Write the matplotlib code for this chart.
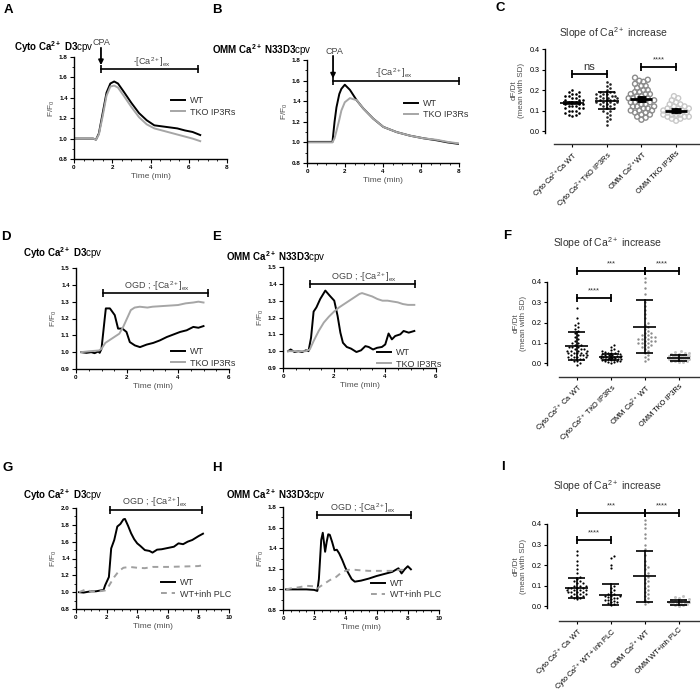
import numpy as np
import matplotlib
matplotlib.use("Agg")
import matplotlib.pyplot as plt
from matplotlib.ticker import AutoMinorLocator

plt.rcParams['font.family'] = ['Liberation Sans', 'DejaVu Sans']
plt.rcParams['mathtext.fontset'] = 'custom'
plt.rcParams['mathtext.rm'] = 'Liberation Sans'
plt.rcParams['mathtext.it'] = 'Liberation Sans:italic'
plt.rcParams['mathtext.bf'] = 'Liberation Sans:bold'

# ---- traces (time in min, F/F0) ----
a_t = [0, 0.5, 1.0, 1.15, 1.3, 1.5, 1.7, 1.9, 2.1, 2.3, 2.6, 3.0, 3.4, 3.8, 4.2, 4.6, 5.0, 5.4, 5.8, 6.2, 6.6]
a_wt = [1.00, 1.00, 1.00, 0.99, 1.05, 1.25, 1.45, 1.54, 1.56, 1.54, 1.46, 1.35, 1.25, 1.18, 1.13, 1.12, 1.11, 1.10, 1.08, 1.065, 1.035]
a_tko = [1.00, 1.00, 1.00, 0.99, 1.04, 1.22, 1.42, 1.51, 1.52, 1.50, 1.42, 1.31, 1.21, 1.14, 1.10, 1.08, 1.06, 1.04, 1.02, 1.0, 0.975]

b_t = [0, 0.5, 1.0, 1.34, 1.45, 1.55, 1.7, 1.81, 1.99, 2.26, 2.61, 2.96, 3.49, 4.02, 4.72, 5.43, 6.13, 6.84, 7.4, 8.0]
b_wt = [1.005, 1.005, 1.005, 1.005, 1.2, 1.34, 1.47, 1.52, 1.56, 1.51, 1.41, 1.33, 1.23, 1.15, 1.10, 1.065, 1.04, 1.02, 1.0, 0.985]
b_tko = [1.0, 1.0, 1.0, 1.0, 1.04, 1.11, 1.22, 1.31, 1.39, 1.43, 1.41, 1.33, 1.23, 1.15, 1.10, 1.065, 1.04, 1.025, 1.005, 0.99]

d_t_wt = [0.2, 0.41, 0.6, 0.73, 0.87, 0.93, 1.0, 1.13, 1.17, 1.33, 1.52, 1.65, 1.82, 1.98, 2.11, 2.31, 2.51, 2.77, 3.03,
          3.29, 3.56, 3.82, 4.08, 4.34, 4.6, 4.8, 5.0]
d_wt = [1.0, 0.996, 1.0, 0.994, 1.004, 0.996, 1.02, 1.205, 1.26, 1.26, 1.22, 1.14, 1.14, 1.12, 1.06, 1.04, 1.03, 1.045, 1.055,
        1.07, 1.09, 1.105, 1.12, 1.13, 1.15, 1.145, 1.155]
d_t_tko = [0.2, 0.5, 0.9, 1.0, 1.15, 1.3, 1.5, 1.7, 1.85, 2.0, 2.15, 2.3, 2.5, 2.8, 3.0, 3.5, 4.0, 4.3, 4.6, 4.8, 5.0]
d_tko = [1.0, 1.005, 1.01, 1.02, 1.055, 1.07, 1.09, 1.11, 1.15, 1.2, 1.25, 1.265, 1.27, 1.265, 1.27, 1.275, 1.28, 1.29, 1.295, 1.30, 1.295]

e_t_wt = [0.2, 0.3, 0.45, 0.6, 0.75, 0.9, 1.0, 1.1, 1.2, 1.31, 1.46, 1.66, 1.83, 2.01, 2.14, 2.25, 2.35, 2.5, 2.67, 2.88,
          3.06, 3.23, 3.36, 3.53, 3.69, 3.88, 4.01, 4.14, 4.27, 4.4, 4.6, 4.73, 4.93, 5.15]
e_wt = [1.0, 1.01, 0.995, 1.0, 0.995, 1.005, 1.0, 1.08, 1.235, 1.26, 1.31, 1.36, 1.33, 1.30, 1.21, 1.11, 1.05, 1.025, 1.015, 0.995,
        1.005, 1.03, 1.025, 1.01, 1.02, 1.025, 1.04, 1.105, 1.07, 1.09, 1.10, 1.12, 1.11, 1.12]
e_t_tko = [0.2, 0.5, 0.9, 1.05, 1.2, 1.4, 1.6, 1.8, 2.0, 2.2, 2.4, 2.6, 2.8, 3.0, 3.1, 3.3, 3.5, 3.7, 3.9, 4.1, 4.3, 4.5, 4.7, 4.9, 5.15]
e_tko = [1.0, 1.0, 1.0, 1.01, 1.06, 1.12, 1.17, 1.205, 1.235, 1.26, 1.28, 1.30, 1.32, 1.34, 1.345, 1.335, 1.325, 1.31, 1.30, 1.30,
         1.295, 1.29, 1.28, 1.275, 1.275]

g_t_wt = [0.2, 0.5, 0.8, 1.0, 1.3, 1.6, 1.8, 1.9, 2.0, 2.15, 2.3, 2.5, 2.7, 2.9, 3.1, 3.2, 3.4, 3.6, 3.8, 4.0, 4.2, 4.5, 4.8,
          5.0, 5.3, 5.6, 6.0, 6.4, 6.7, 7.0, 7.3, 7.6, 8.0, 8.3]
g_wt = [1.0, 0.995, 1.005, 1.01, 1.01, 1.02, 1.025, 1.08, 1.12, 1.18, 1.52, 1.62, 1.78, 1.81, 1.865, 1.87, 1.79, 1.70, 1.63,
        1.58, 1.55, 1.50, 1.49, 1.47, 1.505, 1.51, 1.525, 1.54, 1.58, 1.57, 1.60, 1.62, 1.665, 1.695]
g_t_plc = [0.2, 0.6, 1.0, 1.5, 1.9, 2.1, 2.3, 2.5, 2.8, 3.1, 3.5, 4.0, 4.5, 5.0, 6.0, 7.0, 8.0, 8.3]
g_plc = [1.0, 1.03, 1.01, 1.01, 1.02, 1.06, 1.12, 1.18, 1.25, 1.29, 1.30, 1.29, 1.285, 1.30, 1.30, 1.305, 1.31, 1.32]

h_t_wt = [0.2, 0.5, 1.0, 1.5, 2.0, 2.2, 2.3, 2.45, 2.55, 2.7, 2.8, 2.9, 3.0, 3.15, 3.3, 3.45, 3.6, 3.8, 4.0, 4.2, 4.4, 4.6,
          5.0, 5.5, 6.0, 6.5, 7.0, 7.4, 7.6, 7.8, 8.0, 8.2]
h_wt = [1.0, 1.0, 1.0, 1.0, 0.995, 0.985, 1.1, 1.48, 1.55, 1.365, 1.46, 1.535, 1.53, 1.46, 1.38, 1.385, 1.35, 1.285, 1.21,
        1.155, 1.10, 1.075, 1.085, 1.105, 1.13, 1.15, 1.17, 1.205, 1.155, 1.195, 1.225, 1.195]
h_t_plc = [0.2, 0.5, 1.0, 1.5, 2.0, 2.2, 2.6, 3.0, 3.4, 3.8, 4.2, 4.6, 5.0, 5.5, 6.0, 6.5, 7.0, 7.5, 8.0]
h_plc = [1.0, 1.01, 1.02, 1.035, 1.03, 1.01, 1.05, 1.09, 1.12, 1.17, 1.19, 1.19, 1.185, 1.18, 1.18, 1.18, 1.18, 1.19, 1.19]

# ---- slopes dF/Dt ----
c_labels = ['Cyto Ca$^{2+}$Ca WT', 'Cyto Ca$^{2+}$TKO IP3Rs', 'OMM Ca$^{2+}$WT', 'OMM TKO IP3Rs']
c_g1 = [0.2, 0.19, 0.19, 0.18, 0.18, 0.17, 0.17, 0.17, 0.16, 0.16, 0.15, 0.15, 0.15, 0.14, 0.14, 0.14, 0.13, 0.13, 0.13,
        0.12, 0.12, 0.12, 0.11, 0.11, 0.11, 0.10, 0.10, 0.10, 0.09, 0.09, 0.08, 0.08, 0.075]
c_g2 = [0.24, 0.23, 0.22, 0.21, 0.20, 0.19, 0.19, 0.19, 0.18, 0.18, 0.18, 0.17, 0.17, 0.17, 0.16, 0.16, 0.16, 0.16, 0.15,
        0.15, 0.15, 0.15, 0.14, 0.14, 0.14, 0.14, 0.13, 0.13, 0.13, 0.12, 0.12, 0.11, 0.11, 0.10, 0.10, 0.09, 0.08, 0.07,
        0.06, 0.05, 0.03]
c_g3 = [0.26, 0.25, 0.245, 0.24, 0.23, 0.22, 0.22, 0.21, 0.2, 0.2, 0.19, 0.19, 0.18, 0.18, 0.18, 0.17, 0.17, 0.16, 0.16,
        0.16, 0.15, 0.15, 0.15, 0.14, 0.14, 0.14, 0.13, 0.13, 0.12, 0.12, 0.12, 0.11, 0.11, 0.1, 0.1, 0.1, 0.09, 0.09, 0.08,
        0.08, 0.07, 0.065, 0.055]
c_g4 = [0.17, 0.16, 0.15, 0.14, 0.13, 0.13, 0.12, 0.12, 0.11, 0.11, 0.11, 0.1, 0.1, 0.1, 0.1, 0.09, 0.09, 0.09, 0.09, 0.08,
        0.08, 0.08, 0.08, 0.07, 0.07, 0.07, 0.06, 0.06, 0.05]
c_mean = [0.137, 0.148, 0.155, 0.100]
c_lo = [0.131, 0.105, 0.145, 0.093]
c_hi = [0.143, 0.19, 0.165, 0.107]

f_labels = ['Cyto Ca$^{2+}$ Ca WT', 'Cyto Ca$^{2+}$ TKO IP3Rs', 'OMM Ca$^{2+}$ WT', 'OMM TKO IP3Rs']
f_g1 = [0.27, 0.22, 0.2, 0.19, 0.18, 0.17, 0.16, 0.15, 0.14, 0.13, 0.12, 0.11, 0.1, 0.1, 0.09, 0.09, 0.08, 0.08, 0.08, 0.07,
        0.07, 0.07, 0.06, 0.06, 0.06, 0.06, 0.05, 0.05, 0.05, 0.05, 0.05, 0.04, 0.04, 0.04, 0.04, 0.03, 0.03, 0.03, 0.03,
        0.02, 0.02, 0.02, 0.01, 0.01, 0.0, -0.01]
f_g2 = [0.09, 0.08, 0.07, 0.065, 0.06, 0.06, 0.055, 0.05, 0.05, 0.05, 0.045, 0.045, 0.04, 0.04, 0.04, 0.035, 0.035, 0.035,
        0.03, 0.03, 0.03, 0.03, 0.03, 0.025, 0.025, 0.025, 0.025, 0.02, 0.02, 0.02, 0.02, 0.015, 0.015, 0.015, 0.01, 0.01,
        0.01, 0.005, 0.005, 0.0]
f_g3 = [0.42, 0.4, 0.37, 0.34, 0.3, 0.28, 0.26, 0.24, 0.22, 0.2, 0.19, 0.18, 0.17, 0.16, 0.15, 0.15, 0.14, 0.14, 0.13, 0.13,
        0.13, 0.12, 0.12, 0.12, 0.11, 0.11, 0.11, 0.1, 0.1, 0.1, 0.09, 0.09, 0.08, 0.08, 0.07, 0.06, 0.05, 0.04, 0.03, 0.02,
        0.01]
f_g4 = [0.06, 0.055, 0.05, 0.05, 0.045, 0.045, 0.04, 0.04, 0.04, 0.035, 0.035, 0.035, 0.03, 0.03, 0.03, 0.03, 0.025, 0.025,
        0.025, 0.025, 0.02, 0.02, 0.02, 0.02, 0.015, 0.015, 0.015, 0.01, 0.01, 0.01, 0.005, 0.005]
f_mean = [0.085, 0.03, 0.178, 0.026]
f_lo = [0.015, 0.017, 0.048, 0.01]
f_hi = [0.155, 0.045, 0.31, 0.042]

i_labels = ['Cyto Ca$^{2+}$ Ca WT', 'Cyto Ca$^{2+}$ WT+ inh PLC', 'OMM Ca$^{2+}$ WT', 'OMM WT+inh PLC']
i_g1 = [0.27, 0.25, 0.22, 0.2, 0.18, 0.16, 0.14, 0.13, 0.12, 0.12, 0.11, 0.11, 0.1, 0.1, 0.1, 0.09, 0.09, 0.09, 0.09, 0.08,
        0.08, 0.08, 0.08, 0.07, 0.07, 0.07, 0.07, 0.06, 0.06, 0.06, 0.05, 0.05, 0.05, 0.04, 0.04, 0.035]
i_g2 = [0.245, 0.235, 0.2, 0.185, 0.1, 0.09, 0.08, 0.07, 0.06, 0.06, 0.05, 0.05, 0.05, 0.045, 0.04, 0.04, 0.035, 0.03, 0.03,
        0.025, 0.02, 0.02, 0.015, 0.01, 0.005]
i_g3 = [0.42, 0.4, 0.38, 0.35, 0.33, 0.3, 0.28, 0.25, 0.22, 0.2, 0.19, 0.18, 0.16, 0.15, 0.14, 0.13, 0.12, 0.11, 0.1, 0.09,
        0.08, 0.07, 0.06, 0.05, 0.04, 0.03, 0.02, 0.01]
i_g4 = [0.05, 0.045, 0.04, 0.035, 0.03, 0.03, 0.025, 0.025, 0.02, 0.02, 0.02, 0.015, 0.015, 0.01, 0.01, 0.01, 0.005, 0.005, 0.0]
i_mean = [0.09, 0.055, 0.145, 0.018]
i_lo = [0.04, 0.005, 0.02, 0.005]
i_hi = [0.138, 0.105, 0.268, 0.031]

W, H = 700, 695
fig = plt.figure(figsize=(7, 6.95), dpi=100)
GREY_TXT = '#505050'


def box(l, t, r, b):
    return [l / W, 1 - b / H, (r - l) / W, (b - t) / H]


def ftext(x, y, s, **kw):
    fig.text(x / W, 1 - y / H, s, **kw)


def line_axes(pos, xmax, ylim, xstep, ystep, yminor=True):
    ax = fig.add_axes(box(*pos))
    ax.patch.set_alpha(0)
    ax.set_xlim(0, xmax)
    ax.set_ylim(*ylim)
    for s in ('top', 'right'):
        ax.spines[s].set_visible(False)
    for s in ('left', 'bottom'):
        ax.spines[s].set_linewidth(1.0)
    xt = np.arange(0, xmax + 1e-6, xstep)
    yt = np.arange(ylim[0], ylim[1] + 1e-6, ystep)
    ax.set_xticks(xt)
    ax.set_xticklabels(['%d' % v for v in xt], fontsize=4.5, fontweight='bold')
    ax.set_yticks(yt)
    ax.set_yticklabels(['%.1f' % v for v in yt], fontsize=4.5, fontweight='bold')
    ax.xaxis.set_minor_locator(AutoMinorLocator(4))
    if yminor:
        ax.yaxis.set_minor_locator(AutoMinorLocator(2))
    ax.tick_params(which='major', length=3, width=0.8, pad=1.5)
    ax.tick_params(which='minor', length=1.5, width=0.6)
    ax.set_xlabel('Time (min)', fontsize=6, color=GREY_TXT, labelpad=2)
    ax.set_ylabel('F/F$_0$', fontsize=6, color=GREY_TXT, labelpad=1.5)
    return ax


def legend_at(ax, px, py):
    ax.legend(loc='center left', bbox_to_anchor=(px / W, 1 - py / H), bbox_transform=fig.transFigure,
              frameon=False, fontsize=6.5, handlelength=1.5, handletextpad=0.6, labelspacing=0.25,
              borderpad=0, borderaxespad=0, labelcolor='#333333')


def span_bar(ax, x0, x1, y, text, ty, tx, fs=6.5):
    ax.plot([x0, x1], [y, y], color='k', lw=1.2, clip_on=False)
    ax.plot([x0, x1], [y, y], 'k|', ms=6, mew=1.2, clip_on=False)
    ax.text(tx, ty, text, ha='center', va='center', fontsize=fs, color='#444444', clip_on=False)


def cpa_arrow(ax, x, y0, y1, ty):
    ax.annotate('', xy=(x, y1), xytext=(x, y0), annotation_clip=False,
                arrowprops=dict(arrowstyle='-|>', color='k', lw=1.3, mutation_scale=7, shrinkA=0, shrinkB=0))
    ax.text(x + 0.05, ty, 'CPA', ha='center', va='center', fontsize=6.5, color='#444444')


def swarm(vals, px_per_unit, d, cat_px, max_frac=0.38):
    # beeswarm offsets (px), limited to +-max_frac of the category spacing
    vals = np.asarray(vals, float)
    ys = vals * px_per_unit
    step = d * 0.5
    lim = max_frac * cat_px
    cands = [0.0]
    k = 1
    while k * step <= lim:
        cands += [k * step, -k * step]
        k += 1
    placed = []
    offs = np.zeros(len(vals))
    for i in np.argsort(vals):
        best, best_gap = 0.0, -1
        for c in cands:
            gap = min([(c - px) ** 2 + (ys[i] - py) ** 2 for px, py in placed] or [1e9])
            if gap >= d * d:
                best = c
                break
            if gap > best_gap:
                best, best_gap = c, gap
        placed.append((best, ys[i]))
        offs[i] = best
    return offs / cat_px


def scatter_axes(pos, xlim, x_start, ylo, labels):
    ax = fig.add_axes(box(*pos))
    ax.patch.set_alpha(0)
    ax.set_xlim(*xlim)
    ax.set_ylim(ylo, 0.4)
    for s in ('top', 'right'):
        ax.spines[s].set_visible(False)
    ax.spines['left'].set_bounds(-0.008, 0.4)
    ax.spines['bottom'].set_bounds(x_start, xlim[1])
    ax.spines['left'].set_linewidth(1.0)
    ax.spines['bottom'].set_linewidth(1.0)
    ax.spines['bottom'].set_color('#333333')
    ax.set_yticks([0, 0.1, 0.2, 0.3, 0.4])
    ax.set_yticklabels(['0.0', '0.1', '0.2', '0.3', '0.4'], fontsize=5.2)
    ax.set_xticks(range(4))
    ax.set_xticklabels(labels, rotation=45, ha='right', va='top', rotation_mode='anchor', fontsize=5.3)
    ax.tick_params(length=2.5, width=0.8, pad=1.5)
    return ax


def mean_sd(ax, i, m, lo, hi, lw=1.2, mw=0.34, cw=0.25):
    ax.plot([i - mw, i + mw], [m, m], color='k', lw=lw, zorder=5, clip_on=False, solid_capstyle='butt')
    ax.plot([i, i], [lo, hi], color='k', lw=lw, zorder=5, clip_on=False)
    ax.plot([i - cw, i + cw], [lo, lo], color='k', lw=lw, zorder=5, clip_on=False, solid_capstyle='butt')
    ax.plot([i - cw, i + cw], [hi, hi], color='k', lw=lw, zorder=5, clip_on=False, solid_capstyle='butt')


def dots(ax, i, vals, pxu, cat_px, color, size, open_=False):
    ms = size * 72 / 100
    if open_:
        xo = swarm(vals, pxu, size * 0.85, cat_px)
        ax.scatter(i + xo, vals, s=ms ** 2, facecolors='none', edgecolors=color, linewidths=1.0, clip_on=False, zorder=3)
    else:
        xo = swarm(vals, pxu, size * 1.35, cat_px, max_frac=0.33)
        ax.scatter(i + xo, vals, s=ms ** 2, c=color, linewidths=0, clip_on=False, zorder=3)


def bracket(ax, x0, x1, y, text, ty, fs=5.5):
    ax.plot([x0, x1], [y, y], color='k', lw=1.3, clip_on=False)
    ax.plot([x0, x1], [y, y], 'k|', ms=6, mew=1.3, clip_on=False)
    ax.text((x0 + x1) / 2, ty, text, ha='center', va='center', fontsize=fs, color='#333333')


def title_bold(x, y, main, suffix):
    ftext(x, y, r'$\mathbf{' + main + '}$' + suffix, fontsize=7, va='center', ha='left')


def slope_ylabel(x, y):
    ftext(x, y, 'dF/Dt\n(mean with SD)', fontsize=5.8, ha='center', va='center', rotation=90, color=GREY_TXT,
          linespacing=1.0)


# ---------- A ----------
axA = line_axes((74, 57, 227, 159), 8, (0.8, 1.8), 2, 0.2)
axA.plot(a_t, a_wt, color='k', lw=1.4, label='WT')
axA.plot(a_t, a_tko, color='#a6a6a6', lw=1.4, label='TKO IP3Rs')
legend_at(axA, 171, 106.5)
cpa_arrow(axA, 1.41, 1.89, 1.72, 1.945)
span_bar(axA, 1.41, 6.5, 1.682, '-[Ca$^{2+}$]$_\\mathrm{ex}$', 1.745, 4.1)
title_bold(14, 47, r'Cyto\ Ca^{2+}\ D3', 'cpv')

# ---------- B ----------
axB = line_axes((307, 60, 459, 163), 8, (0.8, 1.8), 2, 0.2)
axB.plot(b_t, b_wt, color='k', lw=1.4, label='WT')
axB.plot(b_t, b_tko, color='#a6a6a6', lw=1.4, label='TKO IP3Rs')
legend_at(axB, 404, 109)
cpa_arrow(axB, 1.37, 1.84, 1.62, 1.885)
span_bar(axB, 1.37, 8.0, 1.596, '-[Ca$^{2+}$]$_\\mathrm{ex}$', 1.67, 4.55)
title_bold(212, 50, r'OMM\ Ca^{2+}\ N33D3', 'cpv')

# ---------- D ----------
axD = line_axes((76, 268, 229, 369), 6, (0.9, 1.5), 2, 0.1, yminor=False)
axD.plot(d_t_wt, d_wt, color='k', lw=1.4, label='WT')
axD.plot(d_t_tko, d_tko, color='#a6a6a6', lw=1.4, label='TKO IP3Rs')
legend_at(axD, 171, 357.5)
span_bar(axD, 1.04, 5.17, 1.351, 'OGD ; -[Ca$^{2+}$]$_\\mathrm{ex}$', 1.392, 3.16)
title_bold(23, 253, r'Cyto\ Ca^{2+}\ D3', 'cpv')

# ---------- E ----------
axE = line_axes((283, 267, 436, 368), 6, (0.9, 1.5), 2, 0.1, yminor=False)
axE.plot(e_t_wt, e_wt, color='k', lw=1.4, label='WT')
axE.plot(e_t_tko, e_tko, color='#a6a6a6', lw=1.4, label='TKO IP3Rs')
legend_at(axE, 377, 358.5)
span_bar(axE, 1.07, 5.16, 1.40, 'OGD ; -[Ca$^{2+}$]$_\\mathrm{ex}$', 1.44, 3.16)
title_bold(226, 257, r'OMM\ Ca^{2+}\ N33D3', 'cpv')

# ---------- G ----------
axG = line_axes((76, 508, 229, 609), 10, (0.8, 2.0), 2, 0.2)
axG.plot(g_t_wt, g_wt, color='k', lw=1.4, label='WT')
axG.plot(g_t_plc, g_plc, color='#a0a0a0', lw=1.4, ls=(0, (3, 2.5)), label='WT+inh PLC')
legend_at(axG, 161, 588.5)
span_bar(axG, 2.23, 8.21, 1.98, 'OGD ; -[Ca$^{2+}$]$_\\mathrm{ex}$', 2.07, 5.17)
title_bold(23, 495, r'Cyto\ Ca^{2+}\ D3', 'cpv')

# ---------- H ----------
axH = line_axes((283, 507, 439, 610), 10, (0.8, 1.8), 2, 0.2)
axH.plot(h_t_wt, h_wt, color='k', lw=1.4, label='WT')
axH.plot(h_t_plc, h_plc, color='#a0a0a0', lw=1.4, ls=(0, (3, 2.5)), label='WT+inh PLC')
legend_at(axH, 371, 589)
span_bar(axH, 2.2, 8.2, 1.726, 'OGD ; -[Ca$^{2+}$]$_\\mathrm{ex}$', 1.79, 5.14)
title_bold(226, 495, r'OMM\ Ca^{2+}\ N33D3', 'cpv')

# ---------- C ----------
axC = scatter_axes((545, 49, 700, 144), (-0.78, 3.69), -0.52, -0.0634, c_labels)
dots(axC, 0, c_g1, 205, 34.7, 'k', 2.6)
dots(axC, 1, c_g2, 205, 34.7, '#222222', 2.6)
dots(axC, 2, c_g3, 205, 34.7, '#8c8c8c', 5.0, open_=True)
dots(axC, 3, c_g4, 205, 34.7, '#c8c8c8', 5.0, open_=True)
mean_sd(axC, 0, c_mean[0], c_lo[0], c_hi[0])
mean_sd(axC, 1, c_mean[1], c_lo[1], c_hi[1])
mean_sd(axC, 2, c_mean[2], c_lo[2], c_hi[2], lw=2.0, mw=0.32, cw=0.14)
mean_sd(axC, 3, c_mean[3], c_lo[3], c_hi[3], lw=2.0, mw=0.32, cw=0.14)
bracket(axC, 0, 1, 0.2765, 'ns', 0.31, fs=8)
bracket(axC, 2, 3, 0.313, '****', 0.348)
ftext(614, 33, 'Slope of Ca$^{2+}$ increase', fontsize=7.5, ha='center', va='center', color='#333333')
slope_ylabel(518, 90)

# ---------- F ----------
axF = scatter_axes((547, 282, 700, 377), (-0.88, 3.62), -0.53, -0.069, f_labels)
dots(axF, 0, f_g1, 202.5, 34, 'k', 2.2)
dots(axF, 1, f_g2, 202.5, 34, 'k', 2.2)
dots(axF, 2, f_g3, 202.5, 34, '#8c8c8c', 2.4)
dots(axF, 3, f_g4, 202.5, 34, '#c4c4c4', 3.0)
for k in range(4):
    mean_sd(axF, k, f_mean[k], f_lo[k], f_hi[k])
bracket(axF, 0, 1, 0.32, '****', 0.355)
bracket(axF, 0, 2, 0.455, '***', 0.49)
bracket(axF, 2, 3, 0.455, '****', 0.49)
ftext(608, 243, 'Slope of Ca$^{2+}$ increase', fontsize=7.5, ha='center', va='center', color='#333333')
slope_ylabel(520, 323)

# ---------- I ----------
axI = scatter_axes((547, 524, 700, 621), (-0.88, 3.62), -0.53, -0.073, i_labels)
dots(axI, 0, i_g1, 205, 34, 'k', 2.2)
dots(axI, 1, i_g2, 205, 34, 'k', 2.2)
dots(axI, 2, i_g3, 205, 34, '#8c8c8c', 2.4)
dots(axI, 3, i_g4, 205, 34, '#c4c4c4', 3.0)
for k in range(4):
    mean_sd(axI, k, i_mean[k], i_lo[k], i_hi[k])
bracket(axI, 0, 1, 0.32, '****', 0.355)
bracket(axI, 0, 2, 0.453, '***', 0.488)
bracket(axI, 2, 3, 0.453, '****', 0.488)
ftext(608, 486, 'Slope of Ca$^{2+}$ increase', fontsize=7.5, ha='center', va='center', color='#333333')
slope_ylabel(520, 566)

# panel letters
for lt, x, y in [('A', 8, 10), ('B', 217, 10), ('C', 500, 8), ('D', 6, 237), ('E', 217, 237), ('F', 507, 236),
                 ('G', 8, 468), ('H', 217, 468), ('I', 503, 467)]:
    ftext(x, y, lt, fontsize=9.5, fontweight='bold', ha='center', va='center')

fig.savefig('out.png', dpi=100)
